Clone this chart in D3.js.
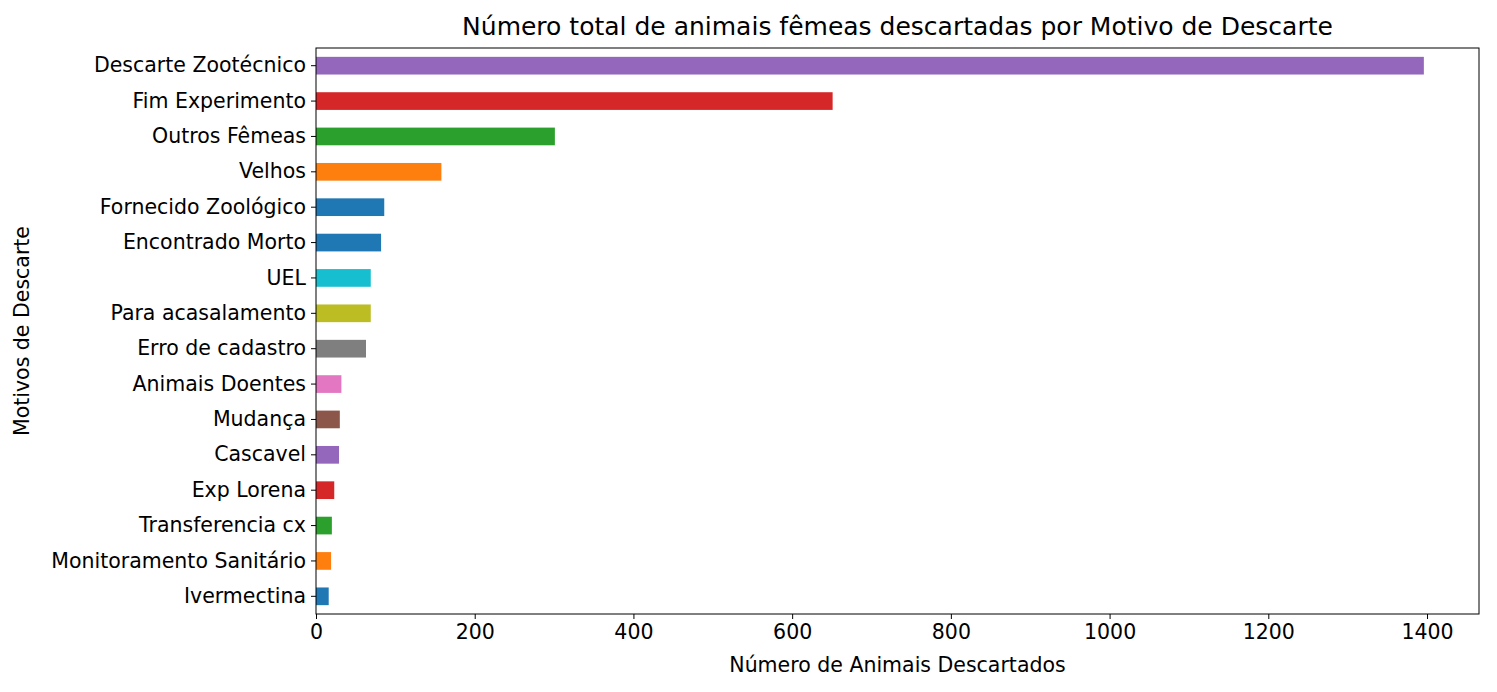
<!DOCTYPE html>
<html><head><meta charset="utf-8">
<script src="https://cdn.jsdelivr.net/npm/d3@7"></script>
<style>body{margin:0;background:#fff}svg{font-family:"DejaVu Sans",sans-serif}</style>
</head><body><svg id="c" width="1497" height="692"></svg>
<script>
const categories=["Descarte Zootécnico","Fim Experimento","Outros Fêmeas","Velhos","Fornecido Zoológico","Encontrado Morto","UEL","Para acasalamento","Erro de cadastro","Animais Doentes","Mudança","Cascavel","Exp Lorena","Transferencia cx","Monitoramento Sanitário","Ivermectina"];
const values=[1396,651,301,158,86,82,69,69,63,32,30,29,23,20,19,16];
const colors=["#9467bd","#d62728","#2ca02c","#ff7f0e","#1f77b4","#1f77b4","#17becf","#bcbd22","#7f7f7f","#e377c2","#8c564b","#9467bd","#d62728","#2ca02c","#ff7f0e","#1f77b4"];
const xTicks=[0,200,400,600,800,1000,1200,1400];
const m={l:316,r:1479,t:48,b:614};
const svg=d3.select("#c");
const x=d3.scaleLinear().domain([0,1465.5]).range([m.l,m.r]);
const y=d3.scaleBand().domain(categories).range([m.t,m.b]).padding(0.5).paddingOuter(0.25);
svg.selectAll("rect.bar").data(values).join("rect").attr("class","bar")
 .attr("x",x(0)).attr("y",(d,i)=>y(categories[i])).attr("width",d=>x(d)-x(0))
 .attr("height",y.bandwidth()).attr("fill",(d,i)=>colors[i]);
const xa=svg.append("g").attr("transform",`translate(0,${m.b})`).call(d3.axisBottom(x).tickValues(xTicks).tickFormat(d3.format("d")).tickSize(5).tickPadding(5));
const ya=svg.append("g").attr("transform",`translate(${m.l},0)`).call(d3.axisLeft(y).tickSize(5).tickPadding(5));
[xa,ya].forEach(a=>{a.attr("font-size",null).attr("font-family",null);a.selectAll("text").style("font-size","20.5px").attr("fill","#000");a.select(".domain").remove();a.selectAll("line").attr("stroke","#000");});
svg.append("rect").attr("x",m.l).attr("y",m.t).attr("width",m.r-m.l).attr("height",m.b-m.t).attr("fill","none").attr("stroke","#000").attr("stroke-width",1);
svg.append("text").attr("x",(m.l+m.r)/2).attr("y",35).attr("text-anchor","middle").style("font-size","25px").text("Número total de animais fêmeas descartadas por Motivo de Descarte");
svg.append("text").attr("x",(m.l+m.r)/2).attr("y",672).attr("text-anchor","middle").style("font-size","20.5px").text("Número de Animais Descartados");
svg.append("text").attr("transform",`translate(29,${(m.t+m.b)/2}) rotate(-90)`).attr("text-anchor","middle").style("font-size","20.5px").text("Motivos de Descarte");
</script></body></html>
